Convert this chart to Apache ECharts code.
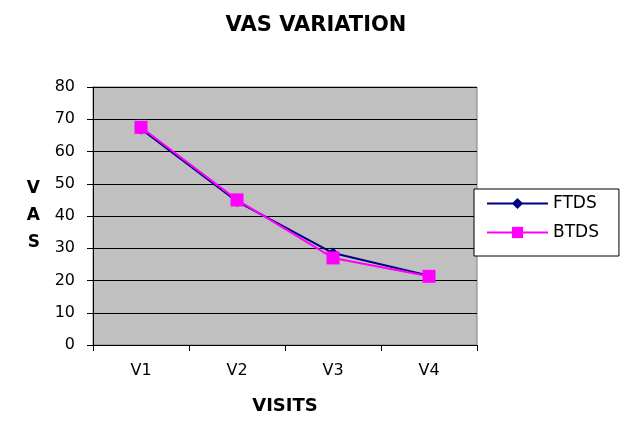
<!DOCTYPE html>
<html><head><meta charset="utf-8">
<script src="https://cdn.jsdelivr.net/npm/echarts@6/dist/echarts.min.js"></script>
<style>html,body{margin:0;padding:0;background:#fff}#c{width:622px;height:424px}</style>
</head><body><div id="c"></div>
<script>
var categories = ['V1','V2','V3','V4'];
var ftds = [67, 44.5, 28.5, 21.5];
var btds = [67.5, 45, 27, 21.3];
var chart = echarts.init(document.getElementById('c'));
var font = 'DejaVu Sans, Verdana, sans-serif';
chart.setOption({
  animation: false,
  backgroundColor: '#fff',
  title: {text: 'VAS VARIATION', left: 311, textAlign: 'center', top: 10,
    textStyle: {fontFamily: font, fontSize: 21, fontWeight: 'bold', color: '#000'}},
  grid: {left: 93, right: 145, top: 87, bottom: 79, show: true, backgroundColor: '#c0c0c0', borderColor: '#808080', borderWidth: 1},
  legend: {orient: 'vertical', left: 474, top: 189, itemWidth: 61, itemHeight: 14, itemGap: 12,
    padding: [6, 20, 15, 12], backgroundColor: '#fff', borderColor: '#000', borderWidth: 1,
    textStyle: {fontFamily: font, fontSize: 17, color: '#000'},
    data: ['FTDS', 'BTDS']},
  xAxis: {type: 'category', data: categories, boundaryGap: true,
    name: 'VISITS', nameLocation: 'middle', nameGap: 52,
    nameTextStyle: {fontFamily: font, fontSize: 18, fontWeight: 'bold', color: '#000'},
    axisLine: {lineStyle: {color: '#000', width: 1}},
    axisTick: {show: true, inside: false, length: 6, lineStyle: {color: '#000'}},
    axisLabel: {fontFamily: font, fontSize: 16, color: '#000', margin: 18}},
  yAxis: {type: 'value', min: 0, max: 80, interval: 10,
    name: 'V\nA\nS', nameLocation: 'middle', nameRotate: 0, nameGap: 53,
    nameTextStyle: {fontFamily: font, fontSize: 17, fontWeight: 'bold', color: '#000', lineHeight: 27},
    axisLine: {show: true, lineStyle: {color: '#000', width: 1}},
    axisTick: {show: true, inside: false, length: 6, lineStyle: {color: '#000'}},
    axisLabel: {fontFamily: font, fontSize: 16, color: '#000', margin: 18},
    splitLine: {show: true, lineStyle: {color: '#000', width: 1}}},
  series: [
    {name: 'FTDS', type: 'line', data: ftds, symbol: 'diamond', symbolSize: 11,
     lineStyle: {color: '#000080', width: 2}, itemStyle: {color: '#000080'}},
    {name: 'BTDS', type: 'line', data: btds, symbol: 'rect', symbolSize: 13,
     lineStyle: {color: '#ff00ff', width: 2}, itemStyle: {color: '#ff00ff'}}
  ]
});
</script></body></html>
